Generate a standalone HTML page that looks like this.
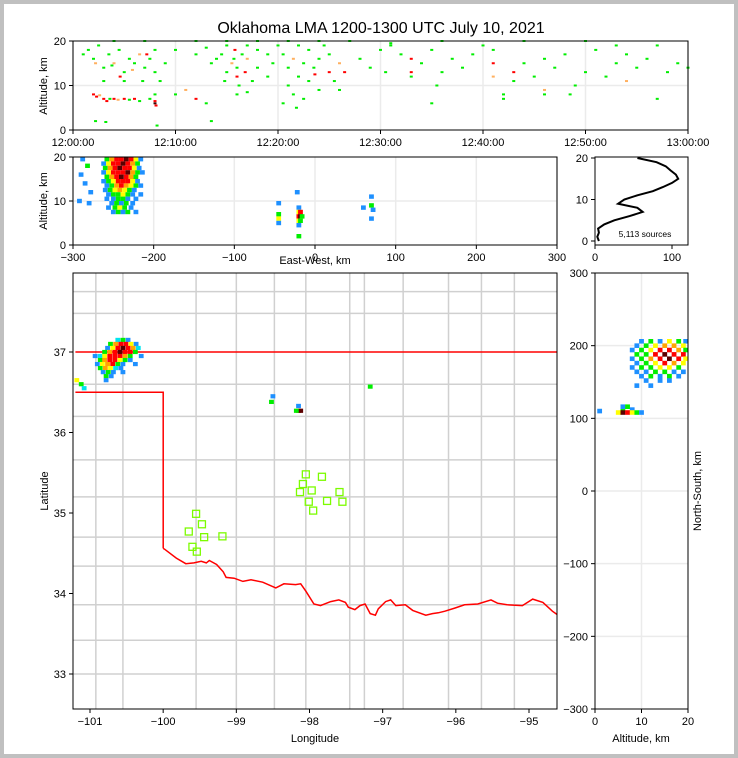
<!DOCTYPE html>
<html><head><meta charset="utf-8"><style>
html,body{margin:0;padding:0;background:#c0c0c0;}
#wrap{position:absolute;left:4px;top:4px;width:730px;height:750px;background:#fff;}
svg{position:absolute;left:0;top:0;}
text{font-family:"Liberation Sans","DejaVu Sans",sans-serif;fill:#000;}
</style></head><body>
<div id="wrap"></div>
<svg id="fig" width="738" height="758" viewBox="0 0 738 758"></svg>
<script>
// ---------- DATA ----------
const timeTicks=["12:00:00","12:10:00","12:20:00","12:30:00","12:40:00","12:50:00","13:00:00"];
const altTicks=[0,10,20];
const ewTicks=[-300,-200,-100,0,100,200,300];
const lonTicks=[-101,-100,-99,-98,-97,-96,-95];
const latTicks=[33,34,35,36,37];
const nsTicks=[-300,-200,-100,0,100,200,300];
const histXTicks=[0,100];
const levelColors=["#1e90ff","#00e5ee","#00ee00","#ffff00","#ffa500","#ff0000","#5a0000"];
const timeColors=["#00ee00","#ffb060","#ff0000","#400000"];
// time-alt sources: [minutes, alt km, level]
const timePts=[[2,8,2],[2.3,7.5,2],[2.6,7.8,1],[3,7,2],[3.3,6.5,2],[3.6,7,0],[4,7,2],[4.4,6.8,1],[5,7,2],[5.5,6.8,0],[6,7,2],[6.5,6.5,0],[7.5,7,0],[8,6.5,2],[8,6,3],[8.1,5.5,2],[8,8,0],
[1.5,18,0],[2,16,0],[2.5,19,0],[3,14,0],[3.5,17,0],[4,15,1],[4.5,18,0],[5,13,0],[5.5,16,0],[6,15,0],[6.5,17,1],[7,14,0],[7.5,16,0],[8,13,0],[8,18,0],[9,15,0],[3,11,0],[4.6,12,2],[5,11,0],[6.8,11,0],[2.2,15,1],[1,17,0],[3.8,14.5,0],[5.8,13.5,1],[7.2,17,2],[8.5,11,0],
[2.2,2,0],[3.2,1.8,0],[8.2,1,0],
[10,8,0],[10,18,0],[11,9,1],[12,7,2],[13,6,0],[13.5,2,0],[13.5,15,0],[12,17,0],[13,18.5,0],[14,16,0],
[14.5,17,0],[15,19,0],[15,13,0],[15.5,15,1],[15.8,18,2],[16,12,2],[16,14,0],[16.2,10,0],[16.5,17,0],[17,16,1],[17,19,0],[17.5,11,0],[18,14,0],[18,18,0],[16.8,13,2],[15.7,16,0],[14.8,11,0],[16,8,0],[17,8.5,0],[19,17,0],[19,12,0],[19.5,15,0],
[20,19,0],[20.5,17,0],[21,14,0],[21,10,0],[21.5,16,1],[21.5,8,0],[22,19,0],[22,12,0],[22.5,15,0],[23,18,0],[23,11,0],[23.5,14,0],[24,16,0],[24,9,0],[24.5,19,0],[25,13,2],[25,17,0],[25.5,11,0],[26,15,1],[26.5,13,2],[26,9,0],[20.5,6,0],[22.5,7,0],[23.6,12.5,2],[21.8,5,0],
[28,16,0],[29,14,0],[30,18,0],[30.5,13,0],[31,19,0],[32,17,0],[33,16,2],[33,13,2],[33,12,0],[34,15,0],[35,18,0],[35.5,10,0],[36,13,0],[37,16,0],[38,14,0],[39,17,0],[40,19,0],[41,15,2],[41,12,1],[41,18,0],[42,8,0],[43,13,2],[43,11,0],[44,15,0],[45,12,0],[46,9,1],[46,16,0],[47,14,0],[48,17,0],[49,10,0],[50,13,0],[51,18,0],[52,12,0],[53,15,0],[54,11,1],[54,17,0],[55,14,0],[56,16,0],[57,7,0],[58,13,0],[59,15,0],[60,14,0],[42,7,0],[46,8,0],[35,6,0],[31,19.5,0],[48.5,8,0],[53,19,0],[57,19,0],
[4,20,0],[7,20,0],[12,20,0],[15,20,0],[18,20,0],[21,20,0],[24,20,0],[27,20,0],[36,20,0],[44,20,0],[50,20,0]];
// EW-alt cells: [ew km, alt km, level]
const ewCells=[[-258,19.5,2],[-252,19.5,4],[-246,19.5,5],[-240,19.5,5],[-234,19.5,6],[-228,19.5,5],[-222,19.5,3],[-216,19.5,0],
[-262,18.5,0],[-256,18.5,3],[-250,18.5,5],[-244,18.5,5],[-238,18.5,6],[-232,18.5,5],[-226,18.5,4],[-220,18.5,2],
[-260,17.5,2],[-254,17.5,4],[-248,17.5,5],[-242,17.5,6],[-236,17.5,5],[-230,17.5,5],[-224,17.5,3],[-218,17.5,0],
[-262,16.5,0],[-256,16.5,3],[-250,16.5,5],[-244,16.5,5],[-238,16.5,5],[-232,16.5,6],[-226,16.5,4],[-220,16.5,2],[-214,16.5,0],
[-258,15.5,2],[-252,15.5,4],[-246,15.5,5],[-240,15.5,6],[-234,15.5,5],[-228,15.5,4],[-222,15.5,2],
[-262,14.5,0],[-256,14.5,2],[-250,14.5,3],[-244,14.5,5],[-238,14.5,5],[-232,14.5,5],[-226,14.5,3],[-220,14.5,0],
[-258,13.5,0],[-252,13.5,2],[-246,13.5,4],[-240,13.5,5],[-234,13.5,4],[-228,13.5,3],[-222,13.5,2],[-216,13.5,0],
[-260,12.5,0],[-254,12.5,2],[-248,12.5,3],[-242,12.5,4],[-236,12.5,3],[-230,12.5,2],[-224,12.5,0],
[-256,11.5,0],[-250,11.5,2],[-244,11.5,2],[-238,11.5,3],[-232,11.5,2],[-226,11.5,0],[-216,11.5,0],
[-258,10.5,0],[-250,10.5,0],[-244,10.5,2],[-238,10.5,2],[-232,10.5,0],[-222,10.5,0],
[-252,9.5,0],[-246,9.5,2],[-240,9.5,0],[-234,9.5,2],[-226,9.5,0],
[-256,8.5,0],[-248,8.5,2],[-242,8.5,3],[-236,8.5,2],[-228,8.5,0],
[-250,7.5,0],[-244,7.5,2],[-238,7.5,0],[-232,7.5,2],[-222,7.5,0],
[-290,16,0],[-285,14,0],[-282,18,2],[-278,12,0],[-292,10,0],[-288,19.5,0],[-280,9.5,0],
[-20,8.5,0],[-20,7.5,3],[-18,7.5,5],[-20,6.5,5],[-18,6.5,6],[-16,6.5,2],[-20,5.5,3],[-18,5.5,2],[-20,4.5,0],[-20,2,2],[-22,12,0],
[-45,7,2],[-45,6,3],[-45,5,0],[-45,9.5,0],[70,9,2],[72,8,0],[60,8.5,0],[70,6,0],[70,11,0]];
// Map cells: [lon, lat, level]
const mapCells=[[-100.62,37.15,1],[-100.55,37.15,2],[-100.48,37.15,0],
[-100.72,37.10,2],[-100.65,37.10,4],[-100.58,37.10,5],[-100.51,37.10,5],[-100.44,37.10,3],[-100.37,37.10,0],
[-100.76,37.05,0],[-100.69,37.05,3],[-100.62,37.05,5],[-100.55,37.05,6],[-100.48,37.05,5],[-100.41,37.05,4],[-100.34,37.05,1],
[-100.80,37.00,2],[-100.73,37.00,4],[-100.66,37.00,5],[-100.59,37.00,6],[-100.52,37.00,5],[-100.45,37.00,5],[-100.38,37.00,2],
[-100.93,36.95,0],[-100.86,36.95,1],[-100.80,36.95,3],[-100.73,36.95,5],[-100.66,36.95,5],[-100.59,36.95,5],[-100.52,36.95,4],[-100.45,36.95,2],[-100.30,36.95,0],
[-100.86,36.90,2],[-100.80,36.90,4],[-100.73,36.90,5],[-100.66,36.90,5],[-100.59,36.90,3],[-100.52,36.90,2],[-100.45,36.90,0],
[-100.90,36.85,0],[-100.83,36.85,3],[-100.76,36.85,4],[-100.69,36.85,5],[-100.62,36.85,2],[-100.55,36.85,0],[-100.38,36.85,0],
[-100.86,36.80,2],[-100.79,36.80,4],[-100.72,36.80,3],[-100.65,36.80,1],[-100.58,36.80,0],
[-100.82,36.75,0],[-100.75,36.75,2],[-100.68,36.75,0],[-100.55,36.75,0],
[-100.78,36.70,2],[-100.71,36.70,0],[-100.78,36.65,0],
[-101.18,36.65,3],[-101.12,36.60,2],[-101.08,36.55,1],
[-98.15,36.27,5],[-98.12,36.27,6],[-98.18,36.27,2],[-98.15,36.33,0],[-98.5,36.45,0],[-98.52,36.38,2],[-97.17,36.57,2]];
// stations: [lon, lat]
const stations=[[-98.05,35.48],[-97.83,35.45],[-98.09,35.36],[-97.97,35.28],[-98.13,35.26],[-97.59,35.26],[-98.01,35.14],[-97.76,35.15],[-97.55,35.14],[-97.95,35.03],[-99.55,34.99],[-99.47,34.86],[-99.65,34.77],[-99.44,34.70],[-99.19,34.71],[-99.60,34.58],[-99.54,34.52]];
// NS-alt cells: [alt km, ns km, level]
const nsCells=[[10,206,0],[12,206,2],[14,206,0],[16,206,3],[18,206,2],[19.5,206,0],
[9,200,0],[11,200,2],[13,200,3],[15,200,4],[17,200,4],[19,200,3],
[8,194,0],[10,194,2],[12,194,3],[14,194,5],[16,194,5],[18,194,4],[19.5,194,2],
[9,188,2],[11,188,2],[13,188,5],[15,188,6],[17,188,5],[19,188,5],
[8,182,0],[10,182,2],[12,182,4],[14,182,5],[16,182,6],[18,182,5],[19.5,182,3],
[9,176,0],[11,176,2],[13,176,3],[15,176,5],[17,176,4],[19,176,3],
[8,170,0],[10,170,2],[12,170,2],[14,170,3],[16,170,3],[18,170,2],
[9,164,0],[11,164,0],[13,164,2],[15,164,2],[17,164,0],[19,164,0],
[10,158,0],[12,158,2],[14,158,0],[16,158,2],[18,158,0],
[11,152,0],[14,152,0],[16,152,0],[9,145,0],[12,145,0],
[6,112,2],[8,112,0],[5,108,3],[6,108,6],[7,108,5],[8,108,3],[9,108,2],[10,108,0],[1,110,0],[6,116,0],[7,116,2]];
// altitude histogram
const histAlts=[0,1,2,3,4,5,6,7,8,9,10,11,12,13,14,15,16,17,18,19,20];
const histCounts=[5,3,5,4,12,25,45,62,55,30,38,55,75,88,100,108,105,98,92,80,55];
// Oklahoma border polylines [lon,lat]
const okNorth=[[-101.2,37.0],[-94.62,37.0]];
const okPanhandle=[[-101.2,36.5],[-100.0,36.5],[-100.0,34.56]];
const redRiver=[[-100.0,34.56],[-99.98,34.55],[-99.82,34.44],[-99.69,34.37],[-99.58,34.38],[-99.48,34.40],[-99.41,34.38],[-99.37,34.41],[-99.27,34.36],[-99.18,34.27],[-99.14,34.20],[-99.03,34.19],[-98.91,34.15],[-98.80,34.17],[-98.64,34.14],[-98.46,34.07],[-98.35,34.12],[-98.19,34.11],[-98.12,34.12],[-98.05,34.03],[-97.94,33.87],[-97.85,33.85],[-97.71,33.90],[-97.60,33.92],[-97.51,33.89],[-97.47,33.83],[-97.38,33.80],[-97.31,33.85],[-97.24,33.87],[-97.17,33.75],[-97.10,33.73],[-97.06,33.81],[-96.96,33.90],[-96.89,33.92],[-96.82,33.85],[-96.69,33.86],[-96.59,33.79],[-96.41,33.73],[-96.32,33.75],[-96.24,33.76],[-96.15,33.78],[-96.01,33.82],[-95.88,33.86],[-95.70,33.87],[-95.52,33.92],[-95.43,33.88],[-95.30,33.86],[-95.09,33.85],[-94.95,33.93],[-94.81,33.89],[-94.68,33.78],[-94.51,33.67],[-94.45,33.64]];
// county grid lines (approximate) in lon / lat
const countyLons=[-100.92,-100.55,-99.55,-99.0,-98.48,-98.05,-97.45,-97.25,-96.72,-96.1,-95.65,-95.2];
const countyLats=[37.75,37.48,36.6,36.2,35.66,35.2,34.7,34.34,33.86,33.42,33.0];

// ---------- DRAW ----------
const svg=document.getElementById('fig');
const NS='http://www.w3.org/2000/svg';
function mk(tag,attrs,parent){const e=document.createElementNS(NS,tag);for(const k in attrs)e.setAttribute(k,attrs[k]);(parent||svg).appendChild(e);return e;}
function txt(x,y,s,size,anchor,parent,rot){const t=mk('text',{x:x,y:y,'font-size':size,'text-anchor':anchor||'middle'},parent);if(rot)t.setAttribute('transform','rotate('+rot+' '+x+' '+y+')');t.textContent=s;return t;}
function lin(a,b,c,d){return v=>c+(v-a)*(d-c)/(b-a);}

const title=txt(381,33,"Oklahoma LMA 1200-1300 UTC July 10, 2021",16);



function panel(name,x0,y0,x1,y1){const g=mk('g',{});return g;}
function frame(g,x0,y0,x1,y1){const r=mk('rect',{x:x0,y:y0,width:x1-x0,height:y1-y0,fill:'none',stroke:'#000','stroke-width':1},g);}
function gridV(g,x,y0,y1){mk('line',{x1:x,x2:x,y1:y0,y2:y1,stroke:'#ebebeb','stroke-width':1.5},g);}
function gridH(g,y,x0,x1){mk('line',{x1:x0,x2:x1,y1:y,y2:y,stroke:'#ebebeb','stroke-width':1.5},g);}
function tickX(g,x,y,label){mk('line',{x1:x,x2:x,y1:y,y2:y+4,stroke:'#000'},g);const t=txt(x,y+16,label,11,'middle',g);}
function tickY(g,x,y,label,right){mk('line',{x1:right?x:x-4,x2:right?x+4:x,y1:y,y2:y,stroke:'#000'},g);const t=txt(x-7,y+4,label,11,'end',g);}
function fmt(v){return v<0?'\u2212'+Math.abs(v):''+v;}

// Panel 1 time-alt
(function(){
const g=panel('time-altitude-panel');
const X=lin(0,60,73,688),Y=lin(0,20,130,41);
timeTicks.forEach((s,i)=>gridV(g,X(i*10),41,130));gridH(g,Y(10),73,688);
timePts.forEach(p=>{const r=mk('rect',{x:X(p[0])-1.5,y:Y(p[1])-1,width:3,height:2,fill:timeColors[p[2]]},g);});
frame(g,73,41,688,130);
timeTicks.forEach((s,i)=>tickX(g,X(i*10),130,s));
altTicks.forEach(v=>tickY(g,73,Y(v),v));
const yl=txt(47,86,"Altitude, km",11,'middle',g,-90);
})();

// Panel 2 EW-alt
(function(){
const g=panel('eastwest-altitude-panel');
const X=lin(-300,300,73,557),Y=lin(0,20,245,157);
ewTicks.forEach(v=>gridV(g,X(v),157,245));gridH(g,Y(10),73,557);
ewCells.forEach(c=>{const r=mk('rect',{x:X(c[0])-2.4,y:Y(c[1])-2.2,width:4.8,height:4.4,fill:levelColors[c[2]]},g);});
frame(g,73,157,557,245);
ewTicks.forEach(v=>tickX(g,X(v),245,fmt(v)));
altTicks.forEach(v=>tickY(g,73,Y(v),v));
const yl=txt(47,201,"Altitude, km",11,'middle',g,-90);
const xl=txt(315,264,"East-West, km",11,'middle',g);
})();

// Panel 3 histogram
(function(){
const g=panel('altitude-histogram-panel');
const X=lin(0,100,595,672),Y=lin(0,20,241,158);
let d='';histAlts.forEach((a,i)=>{d+=(i?'L':'M')+X(histCounts[i]).toFixed(1)+' '+Y(a).toFixed(1);});
const p=mk('path',{d:d,fill:'none',stroke:'#000','stroke-width':2},g);
frame(g,595,157,688,245);
histXTicks.forEach(v=>tickX(g,X(v),245,v));
altTicks.forEach(v=>tickY(g,595,Y(v),v));
const t=txt(645,237,"5,113 sources",8.5,'middle',g);
})();

// Panel 4 map
(function(){
const g=panel('plan-view-map-panel');
const X=lin(-101,-95,90,529),Y=lin(37,33,352,674);
const clip=mk('clipPath',{id:'mc'},g);mk('rect',{x:73,y:273,width:484,height:436},clip);
const m=mk('g',{'clip-path':'url(#mc)'},g);
countyLons.forEach(v=>{const l=mk('line',{x1:X(v),x2:X(v),y1:273,y2:709,stroke:'#d0d0d0','stroke-width':1.5},m);});
countyLats.forEach(v=>{const l=mk('line',{x1:73,x2:557,y1:Y(v),y2:Y(v),stroke:'#d0d0d0','stroke-width':1.5},m);});
[okNorth,okPanhandle,redRiver].forEach(pl=>{const d=pl.map((p,i)=>(i?'L':'M')+X(p[0]).toFixed(1)+' '+Y(p[1]).toFixed(1)).join('');const p=mk('path',{d:d,fill:'none',stroke:'#ff0000','stroke-width':1.5},m);});
mapCells.forEach(c=>{const r=mk('rect',{x:X(c[0])-2.4,y:Y(c[1])-2.1,width:4.8,height:4.2,fill:levelColors[c[2]]},m);});
stations.forEach(s=>{const r=mk('rect',{x:X(s[0])-3.5,y:Y(s[1])-3.5,width:7,height:7,fill:'none',stroke:'#7cfc00','stroke-width':1.3},m);});
frame(g,73,273,557,709);
lonTicks.forEach(v=>tickX(g,X(v),709,fmt(v)));
latTicks.forEach(v=>tickY(g,73,Y(v),v));
const xl=txt(315,742,"Longitude",11,'middle',g);
const yl=txt(48,491,"Latitude",11,'middle',g,-90);
})();

// Panel 5 NS-alt
(function(){
const g=panel('northsouth-altitude-panel');
const X=lin(0,20,595,688),Y=lin(300,-300,273,709);
gridV(g,X(10),273,709);[200,100,0,-100,-200].forEach(v=>gridH(g,Y(v),595,688));
nsCells.forEach(c=>{const r=mk('rect',{x:X(c[0])-2.4,y:Y(c[1])-2.3,width:4.8,height:4.6,fill:levelColors[c[2]]},g);});
frame(g,595,273,688,709);
[0,10,20].forEach(v=>tickX(g,X(v),709,v));
nsTicks.forEach(v=>tickY(g,595,Y(v),fmt(v)));
const xl=txt(641,742,"Altitude, km",11,'middle',g);
const yl=txt(701,491,"North-South, km",11,'middle',g,-90);
})();
</script>
</body></html>
